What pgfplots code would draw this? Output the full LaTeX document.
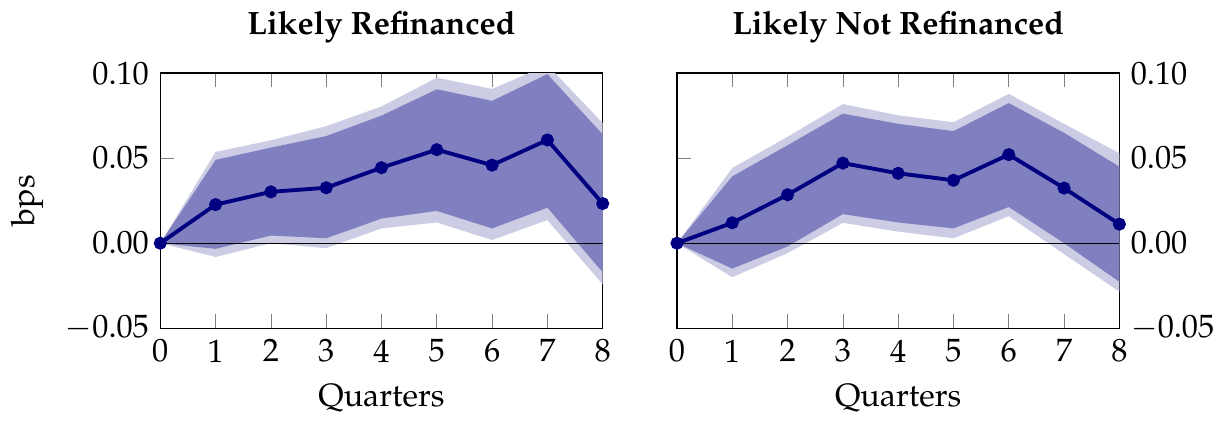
\documentclass[border=0pt]{standalone}
\usepackage[T1]{fontenc}
\usepackage{mathpazo}
\usepackage{pgfplots}
\pgfplotsset{compat=1.18}
\usepgfplotslibrary{fillbetween}
\definecolor{navy}{RGB}{0,0,128}

% left panel: point estimate, 90% and 95% bands
\pgfplotstableread{
q   est     lo90     hi90    lo95     hi95
0   0.0     0.0      0.0     0.0      0.0
1   0.0227  -0.0033  0.0490  -0.0081  0.0537
2   0.0302  0.0045   0.0562  0.0000   0.0605
3   0.0326  0.0029   0.0630  -0.0029  0.0688
4   0.0444  0.0145   0.0750  0.0087   0.0804
5   0.0550  0.0190   0.0905  0.0122   0.0973
6   0.0459  0.0087   0.0837  0.0019   0.0907
7   0.0607  0.0209   0.0994  0.0136   0.1047
8   0.0233  -0.0171  0.0640  -0.0242  0.0707
}\refi
% right panel
\pgfplotstableread{
q   est     lo90     hi90    lo95     hi95
0   0.0     0.0      0.0     0.0      0.0
1   0.0120  -0.0149  0.0393  -0.0200  0.0442
2   0.0285  -0.0019  0.0576  -0.0058  0.0626
3   0.0471  0.0171   0.0762  0.0120   0.0818
4   0.0411  0.0122   0.0702  0.0068   0.0752
5   0.0370  0.0087   0.0659  0.0029   0.0711
6   0.0521  0.0213   0.0824  0.0159   0.0878
7   0.0324  0.0000   0.0649  -0.0064  0.0702
8   0.0112  -0.0227  0.0450  -0.0285  0.0529
}\norefi

\pgfplotsset{
  irf/.style={
    scale only axis,
    width=137pt, height=79pt,
    xmin=0, xmax=8, ymin=-0.05, ymax=0.10,
    xtick={0,...,8},
    ytick={-0.05,0,0.05,0.10},
    yticklabel style={/pgf/number format/.cd, fixed, fixed zerofill, precision=2},
    scaled y ticks=false,
    xlabel={Quarters},
    title style={font=\bfseries},
  },
}

\newcommand{\irfplots}[1]{%
  \addplot[name path=u95, draw=none] table[x=q, y=hi95] {#1};
  \addplot[name path=l95, draw=none] table[x=q, y=lo95] {#1};
  \addplot[navy!20] fill between[of=u95 and l95];
  \addplot[name path=u90, draw=none] table[x=q, y=hi90] {#1};
  \addplot[name path=l90, draw=none] table[x=q, y=lo90] {#1};
  \addplot[navy!50] fill between[of=u90 and l90];
  \addplot[black, thin] coordinates {(0,0) (8,0)};
  \addplot[navy, line width=1.2pt, mark=*, mark size=1.4pt] table[x=q, y=est] {#1};
}

\begin{document}
\begin{tikzpicture}
\begin{axis}[irf, at={(0pt,0pt)}, title={Likely Refinanced}, ylabel={bps}]
\irfplots{\refi}
\end{axis}
\begin{axis}[irf, at={(160pt,0pt)},
  yticklabel pos=right, title={Likely Not Refinanced}]
\irfplots{\norefi}
\end{axis}
\end{tikzpicture}
\end{document}
